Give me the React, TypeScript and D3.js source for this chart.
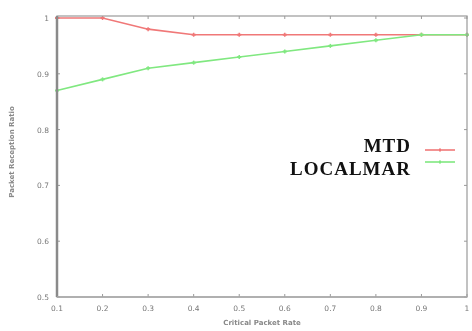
import React from "react";
import * as d3 from "d3";

const xValues = [0.1, 0.2, 0.3, 0.4, 0.5, 0.6, 0.7, 0.8, 0.9, 1.0];
const mtdValues = [1.0, 1.0, 0.98, 0.97, 0.97, 0.97, 0.97, 0.97, 0.97, 0.97];
const localmarValues = [0.87, 0.89, 0.91, 0.92, 0.93, 0.94, 0.95, 0.96, 0.97, 0.97];
const xTicks = [0.1, 0.2, 0.3, 0.4, 0.5, 0.6, 0.7, 0.8, 0.9, 1];
const xTickLabels = ["0.1", "0.2", "0.3", "0.4", "0.5", "0.6", "0.7", "0.8", "0.9", "1"];
const yTicks = [0.5, 0.6, 0.7, 0.8, 0.9, 1];
const yTickLabels = ["0.5", "0.6", "0.7", "0.8", "0.9", "1"];
const seriesNames = ["MTD", "LOCALMAR"];
const seriesColors = ["#f07878", "#80e880"];

export default function App() {
  const W = 472, H = 331;
  const left = 57, right = 467, top = 16, bottom = 297;
  const x = d3.scaleLinear().domain([0.1, 1]).range([left, right]);
  const y = d3.scaleLinear().domain([0.5, 1]).range([bottom, 18]);
  const line = d3.line<[number, number]>().x(d => x(d[0])).y(d => y(d[1]));
  const series = [mtdValues, localmarValues];
  const axisColor = "#9a9a9a";
  const textColor = "#777";
  return (
    <svg width={W} height={H} style={{ position: "absolute", left: 0, top: 0, background: "#fff" }}>
      <rect x={0} y={0} width={W} height={H} fill="#fff" />
      {xTicks.map((t, i) => (
        <g key={"xt" + i}>
          <line x1={x(t)} x2={x(t)} y1={bottom} y2={bottom - 3} stroke={axisColor} strokeWidth={1} />
          <line x1={x(t)} x2={x(t)} y1={top} y2={top + 3} stroke={axisColor} strokeWidth={1} />
          <text x={x(t)} y={bottom + 14} fontSize={7.5} fontFamily="DejaVu Sans" fill={textColor} textAnchor="middle" style={{ filter: "blur(0.4px)" }}>{xTickLabels[i]}</text>
        </g>
      ))}
      {yTicks.map((t, i) => (
        <g key={"yt" + i}>
          <line x1={left} x2={left + 3} y1={y(t)} y2={y(t)} stroke={axisColor} strokeWidth={1} />
          <line x1={right} x2={right - 3} y1={y(t)} y2={y(t)} stroke={axisColor} strokeWidth={1} />
          <text x={left - 8} y={y(t) + 3} fontSize={7.5} fontFamily="DejaVu Sans" fill={textColor} textAnchor="end" style={{ filter: "blur(0.4px)" }}>{yTickLabels[i]}</text>
        </g>
      ))}
      {series.map((vals, si) => {
        const pts: [number, number][] = xValues.map((v, i) => [v, vals[i]]);
        return (
          <g key={"s" + si}>
            <path d={line(pts) || ""} fill="none" stroke={seriesColors[si]} strokeWidth={1.6} />
            {pts.map((p, i) => (
              <g key={i}>
                <line x1={x(p[0]) - 2} x2={x(p[0]) + 2} y1={y(p[1])} y2={y(p[1])} stroke={seriesColors[si]} strokeWidth={2} />
                <line x1={x(p[0])} x2={x(p[0])} y1={y(p[1]) - 2} y2={y(p[1]) + 2} stroke={seriesColors[si]} strokeWidth={1.5} />
              </g>
            ))}
          </g>
        );
      })}
      <rect x={left} y={top} width={right - left} height={bottom - top} fill="none" stroke={axisColor} strokeWidth={1.2} />
      <line x1={left} x2={left} y1={top} y2={bottom} stroke="#8a8a8a" strokeWidth={2.5} />
      <line x1={left} x2={right} y1={bottom} y2={bottom} stroke="#aaa" strokeWidth={1.5} />
      {seriesNames.map((n, i) => (
        <g key={"lg" + i}>
          <text x={411} y={152 + i * 23} fontSize={19} fontWeight="bold" fontFamily="Liberation Serif" letterSpacing={1} fill="#111" textAnchor="end" style={{ filter: "blur(0.3px)" }}>{n}</text>
          <line x1={425} x2={455} y1={150 + i * 12} y2={150 + i * 12} stroke={seriesColors[i]} strokeWidth={1.6} />
          <line x1={439} x2={441} y1={150 + i * 12} y2={150 + i * 12} stroke={seriesColors[i]} strokeWidth={3} />
        </g>
      ))}
      <text x={262} y={325} fontSize={7} fontFamily="DejaVu Sans" fontWeight="bold" fill="#888" textAnchor="middle" style={{ filter: "blur(0.4px)" }}>Critical Packet Rate</text>
      <text transform="translate(14,152) rotate(-90)" fontSize={7} fontFamily="DejaVu Sans" fontWeight="bold" fill="#888" textAnchor="middle" style={{ filter: "blur(0.4px)" }}>Packet Reception Ratio</text>
    </svg>
  );
}
